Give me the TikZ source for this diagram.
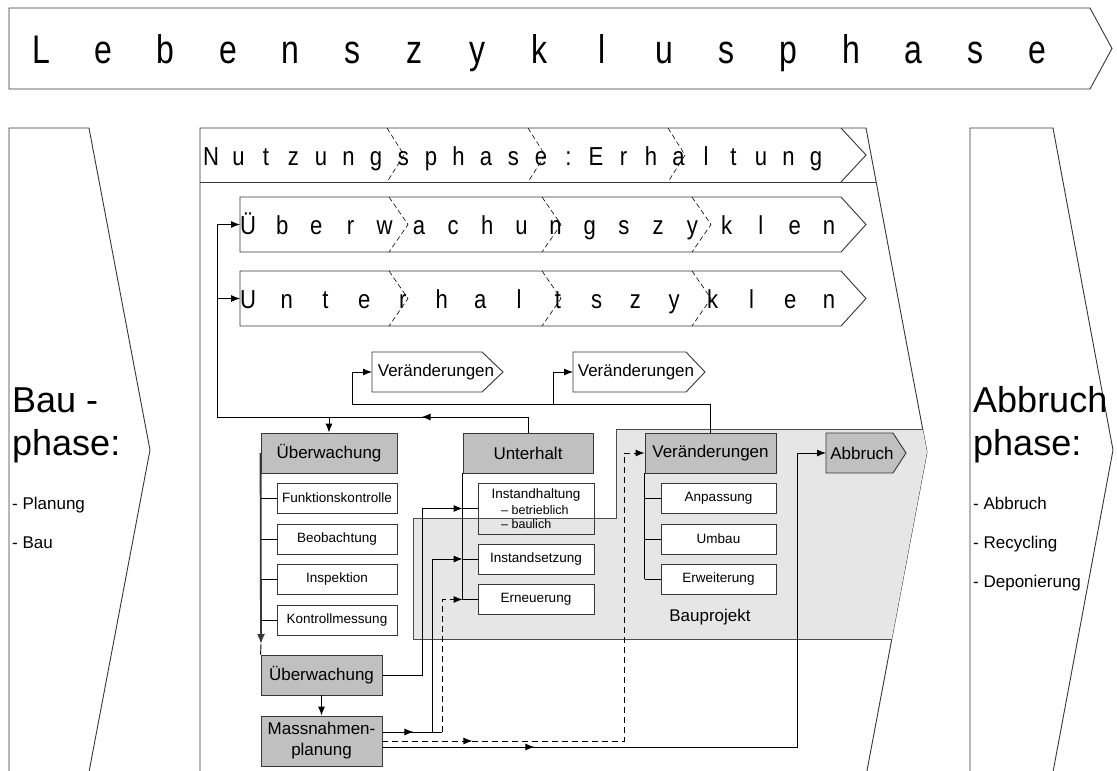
\documentclass[tikz,border=0pt]{standalone}
\usepackage{fontspec}
\usepackage{graphicx}
\setmainfont{Liberation Sans}
\usetikzlibrary{arrows.meta,decorations.markings}
\definecolor{boxgray}{RGB}{192,192,192}
\definecolor{regiongray}{RGB}{230,230,230}
\definecolor{linegray}{RGB}{55,55,55}
\begin{document}
\begin{tikzpicture}[x=1pt,y=-1pt,
  ol/.style={draw=linegray, line width=0.9pt},
  conn/.style={draw=black, line width=0.9pt},
  arr/.style={conn, -{Latex[length=9pt,width=7pt]}},
  midarrow/.style={postaction={decorate}, decoration={markings, mark=at position #1 with {\arrow{Latex[length=9pt,width=7pt]}}}},
  gbox/.style={ol, fill=boxgray, inner sep=0pt, minimum height=40pt, font=\fontsize{17}{20}\selectfont},
  wbox/.style={ol, fill=white, inner sep=0pt, minimum height=30pt, font=\fontsize{13.5}{16}\selectfont},
  sepline/.style={draw=black, line width=0.6pt, dash pattern=on 5pt off 3pt},
  bigl/.style={anchor=base, inner sep=0pt, font=\fontsize{40}{44}\selectfont},
  midl/.style={anchor=base, inner sep=0pt, font=\fontsize{26}{30}\selectfont},
  sidetitle/.style={anchor=base west, inner sep=0pt, font=\fontsize{36}{40}\selectfont},
  sidelist/.style={anchor=base west, inner sep=0pt, font=\fontsize{17}{20}\selectfont},
  lbl/.style={inner sep=0pt, font=\fontsize{17}{20}\selectfont},
  small/.style={inner sep=0pt, font=\fontsize{13.5}{16}\selectfont},
  tiny/.style={anchor=west, inner sep=0pt, font=\fontsize{12.5}{14}\selectfont}
]
\useasboundingbox (0,0) rectangle (1117,771);
\begin{scope}
\clip (0,0) rectangle (1117,771);
\fill[white] (0,0) rectangle (1117,771);

% top banner
\draw[ol] (9,8) -- (1090,8) -- (1112,48.5) -- (1090,89) -- (9,89) -- cycle;
\foreach \ch [count=\i from 0] in {L,e,b,e,n,s,z,y,k,l,u,s,p,h,a,s,e}
  \node[bigl] (lz\i) at ({41+\i*62.3},63) {\scalebox{0.8}[1]{\ch}};

% side chevrons
\draw[ol] (9,128) -- (89,128) -- (150,450) -- (89,772) -- (9,772) -- cycle;
\draw[ol] (970,128) -- (1053,128) -- (1113,450) -- (1053,772) -- (970,772) -- cycle;
\node[sidetitle] (bau1) at (12,412) {Bau -};
\node[sidetitle] (bau2) at (12,455) {phase:};
\node[sidelist] (bau3) at (12,509) {- Planung};
\node[sidelist] (bau4) at (12,548) {- Bau};
\node[sidetitle] (ab1) at (973,412) {Abbruch};
\node[sidetitle] (ab2) at (973,455) {phase:};
\node[sidelist] (ab3) at (973,509) {- Abbruch};
\node[sidelist] (ab4) at (973,548) {- Recycling};
\node[sidelist] (ab5) at (973,587) {- Deponierung};

% big middle shape
\draw[ol] (200,128) -- (866,128) -- (927,452) -- (866,776) -- (200,776) -- cycle;
\draw[ol] (200,182) -- (876.2,182);
\draw[ol] (841,128) -- (866,155) -- (841,182);
\foreach \x in {387,528,668}
  \draw[sepline] (\x,128) -- (\x+17,155) -- (\x,182);
\foreach \ch [count=\i from 0] in {N,u,t,z,u,n,g,s,p,h,a,s,e,:,E,r,h,a,l,t,u,n,g}
  \node[midl] (nz\i) at ({211+\i*27.5},165) {\scalebox{0.85}[1]{\ch}};

% cycle rows
\draw[ol] (240,197) -- (841,197) -- (866,224.5) -- (841,252) -- (240,252) -- cycle;
\draw[ol] (240,271) -- (841,271) -- (866,298.5) -- (841,326) -- (240,326) -- cycle;
\foreach \x in {389,542,692} {
  \draw[sepline] (\x,197) -- (\x+19,224.5) -- (\x,252);
  \draw[sepline] (\x,271) -- (\x+19,298.5) -- (\x,326);
}
\foreach \ch [count=\i from 0] in {Ü,b,e,r,w,a,c,h,u,n,g,s,z,y,k,l,e,n}
  \node[midl] (uz\i) at ({248+\i*34.18},234) {\scalebox{0.85}[1]{\ch}};
\foreach \ch [count=\i from 0] in {U,n,t,e,r,h,a,l,t,s,z,y,k,l,e,n}
  \node[midl] (hz\i) at ({248+\i*38.73},308) {\scalebox{0.85}[1]{\ch}};
\coordinate (uzw) at (240,224.5);
\coordinate (utw) at (240,298.5);

% Bauprojekt region (fill)
\fill[regiongray] (413,518) -- (616,518) -- (616,429) -- (922.7,429) -- (927,452) -- (891.8,639) -- (413,639) -- cycle;
\node[lbl] (bauprojekt) at (710,617) {Bauprojekt};

% small Veraenderungen chevrons
\draw[ol, fill=white] (372,352) -- (482,352) -- (503,372) -- (482,392) -- (372,392) -- cycle;
\node[lbl] (v1) at (436,372) {Veränderungen};
\coordinate (v1w) at (372,372);
\draw[ol, fill=white] (573,352) -- (686,352) -- (705,372) -- (686,392) -- (573,392) -- cycle;
\node[lbl] (v2) at (636,372) {Veränderungen};
\coordinate (v2w) at (573,372);

% Ueberwachung tree
\node[gbox, minimum width=136pt] (ueb) at (329,453) {Überwachung};
\node[wbox, minimum width=120pt] (fk) at (337,498) {Funktionskontrolle};
\node[wbox, minimum width=120pt] (beo) at (337,539) {Beobachtung};
\node[wbox, minimum width=120pt] (insp) at (337,579) {Inspektion};
\node[wbox, minimum width=120pt] (km) at (337,620) {Kontrollmessung};
\node[gbox, minimum width=121pt] (ueb2) at (321.5,675) {Überwachung};
\node[gbox, minimum width=121pt, minimum height=50pt, align=center, font=\fontsize{17}{21}\selectfont] (mass) at (321.5,741) {Massnahmen-\\planung};

% Unterhalt tree
\node[gbox, minimum width=130pt] (unterhalt) at (528,453) {Unterhalt};
\fill[white] (478,483) rectangle (594,518);
\node[ol, inner sep=0pt, minimum width=116pt, minimum height=51pt] (ihalt) at (536,508.5) {};
\node[small] (ihalt1) at (536,495) {Instandhaltung};
\node[tiny] (ihalt2) at (501,510) {– betrieblich};
\node[tiny] (ihalt3) at (501,524) {– baulich};
\node[wbox, minimum width=116pt] (isetz) at (536,559) {Instandsetzung};
\node[wbox, minimum width=116pt] (erneu) at (536,599.5) {Erneuerung};

% Veraenderungen tree
\node[gbox, minimum width=131pt] (vgray) at (710.5,453) {Veränderungen};
\node[wbox, minimum width=115pt] (anp) at (718.5,498) {Anpassung};
\node[wbox, minimum width=115pt] (umb) at (718.5,539) {Umbau};
\node[wbox, minimum width=115pt] (erw) at (718.5,579) {Erweiterung};

% Abbruch chevron
\draw[ol, fill=boxgray] (826,433) -- (893,433) -- (906,453) -- (893,473) -- (826,473) -- cycle;
\node[lbl] (abbr) at (862,453) {Abbruch};
\coordinate (abw) at (826,453);

% region outline on top
\draw[draw=black!70, line width=0.9pt] (413,518) -- (616,518) -- (616,429) -- (922.7,429);
\draw[draw=black!70, line width=0.9pt] (891.8,639) -- (413,639) -- (413,518);

% tree connectors
\draw[line width=1.8pt, draw=linegray, -{Latex[length=10pt,width=8pt]}] (ueb.west) -- (261,644);
\draw[conn] (261,644) -- (ueb2.north west);
\foreach \n in {fk,beo,insp,km}
  \draw[conn] (\n.west -| ueb.west) -- (\n.west);
\draw[conn] (unterhalt.south west) -- (erneu.west -| unterhalt.west);
\foreach \n in {ihalt,isetz,erneu}
  \draw[conn] (\n.west -| unterhalt.west) -- (\n.west);
\draw[conn] (vgray.south west) -- (erw.west -| vgray.west);
\foreach \n in {anp,umb,erw}
  \draw[conn] (\n.west -| vgray.west) -- (\n.west);
\draw[arr] (ueb2.south) -- (mass.north);

% feedback lines at top
\coordinate (fb) at (217,417);
\draw[conn, midarrow=122pt] (unterhalt.north) |- (fb);
\draw[arr] (fb) |- (uzw);
\draw[arr] (fb |- utw) -- (utw);
\draw[arr] (ueb.north |- fb) -- (ueb.north);
\coordinate (vb) at (352,404);
\coordinate (xG) at (553,0);
\draw[conn] (vgray.north) |- (vb);
\draw[arr] (vb) |- (v1w);
\draw[arr] (xG |- vb) |- (v2w);

% measures
\coordinate (xA) at (422,0);
\coordinate (xB) at (432,0);
\coordinate (xC) at (442,0);
\coordinate (xD) at (624,0);
\coordinate (xE) at (797,0);
\coordinate (yL1) at (0,732);
\coordinate (yL2) at (0,741);
\coordinate (yL3) at (0,747);
\draw[arr] (ueb2.east) -| (xA |- ihalt.west) -- (ihalt.west -| unterhalt.west);
\draw[arr, midarrow=31pt] (mass.east |- yL1) -| (xB |- isetz.west) -- (isetz.west -| unterhalt.west);
\draw[conn] (xB |- yL1) -- (xC |- yL1);
\draw[arr, dash pattern=on 6pt off 4pt] (xC |- yL1) |- (erneu.west -| unterhalt.west);
\draw[arr, dash pattern=on 6pt off 4pt, midarrow=90pt] (mass.east |- yL2) -| (xD |- vgray.west) -- (vgray.west);
\draw[arr, midarrow=152pt] (mass.east |- yL3) -| (xE |- abw) -- (abw);
\end{scope}
\end{tikzpicture}
\end{document}
